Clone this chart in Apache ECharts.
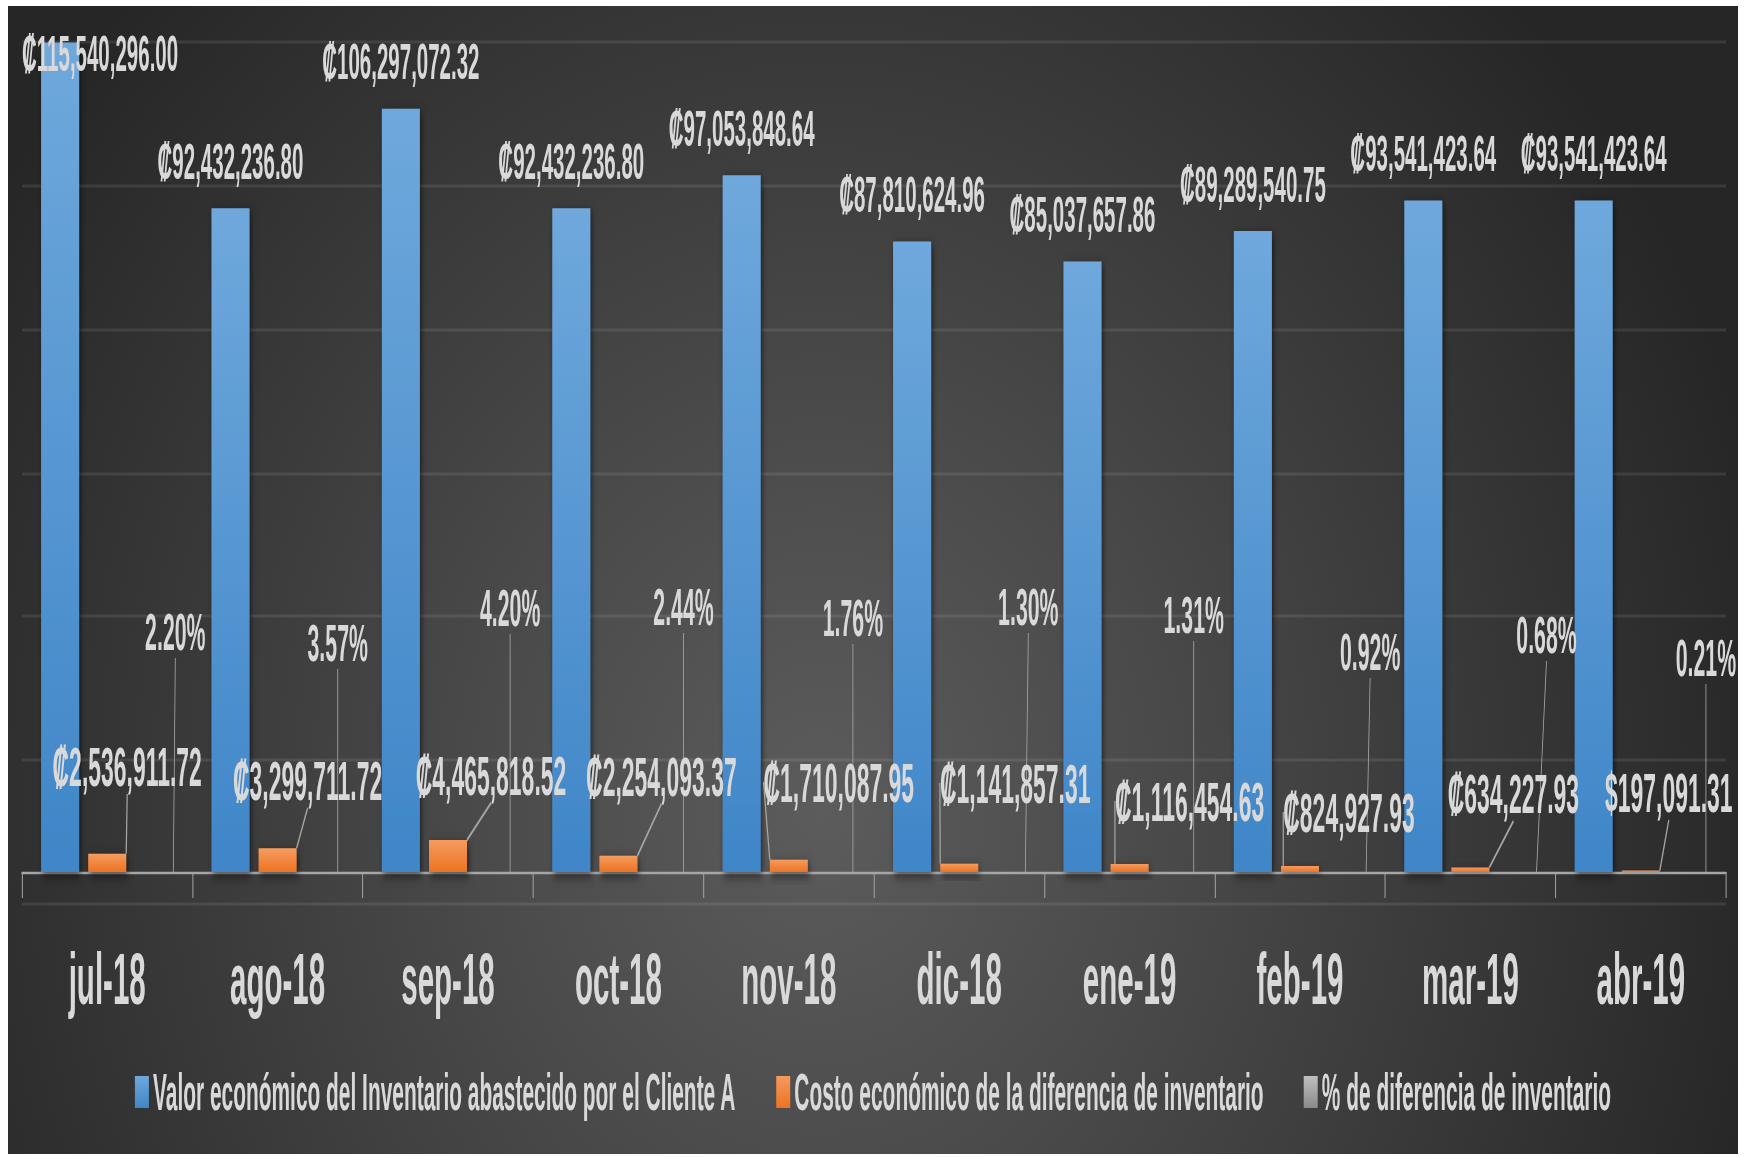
<!DOCTYPE html>
<html>
<head>
<meta charset="utf-8">
<script src="https://cdn.jsdelivr.net/npm/echarts@6/dist/echarts.min.js"></script>
<style>
html,body{margin:0;padding:0;background:#ffffff;width:1749px;height:1157px;overflow:hidden}
#panel{position:absolute;left:8px;top:6px;width:1730px;height:1148px;overflow:hidden;
  background:radial-gradient(ellipse 980px 1150px at 47% 70%, #5c5c5c 0%, #4a4a4a 35%, #262626 100%);}
#chart{position:absolute;left:0;top:0;transform-origin:0 0;}
</style>
</head>
<body>
<div id="panel"><div id="chart"></div></div>
<script>
// ---------------- data ----------------
const categories = ['jul-18','ago-18','sep-18','oct-18','nov-18','dic-18','ene-19','feb-19','mar-19','abr-19'];
const inventoryValue = [115540296.00, 92432236.80, 106297072.32, 92432236.80, 97053848.64, 87810624.96, 85037657.86, 89289540.75, 93541423.64, 93541423.64];
const differenceCost = [2536911.72, 3299711.72, 4465818.52, 2254093.37, 1710087.95, 1141857.31, 1116454.63, 824927.93, 634227.93, 197091.31];
const costSymbols = ['₡','₡','₡','₡','₡','₡','₡','₡','₡','$'];
const differencePct = [2.20, 3.57, 4.20, 2.44, 1.76, 1.30, 1.31, 0.92, 0.68, 0.21];
const seriesNames = [
  'Valor económico del Inventario abastecido por el Cliente A',
  'Costo económico de la diferencia de inventario',
  '% de diferencia de inventario'
];

// ---------------- layout (page pixels; converted to chart space below) ----------------
const PANEL_W = 1730, PANEL_H = 1148;
const CW = 2110, CH = 574;              // chart drawing space
const SX = PANEL_W / CW, SY = PANEL_H / CH;
const blueLabelShiftX = [40,0,0,0,0,0,0,0,0,0];
const blueLabelShiftY = [58,0,0,0,0,0,0,0,0,0];
const costLabelDx   = [20,30,43,43,50,56,60,49,43,28];
const costLabelRise = [106,92,97,96,90,89,71,60,79,80];
const pctLabelDx    = [21,13,15,18,17,22,17,23,29,18];
const pctLabelRise  = [240,229,264,265,254,265,257,220,237,214];

const FONT = "'Liberation Sans', Arimo, 'DejaVu Sans', sans-serif";
const TXT = '#d9d9d9';
const fmt = v => v.toLocaleString('en-US',{minimumFractionDigits:2, maximumFractionDigits:2});
const grad = (a,b) => new echarts.graphic.LinearGradient(0,0,0,1,[{offset:0,color:a},{offset:1,color:b}]);
const shadow = {shadowBlur:6, shadowColor:'rgba(0,0,0,0.55)', shadowOffsetX:2, shadowOffsetY:2};

const el = document.getElementById('chart');
el.style.width = CW + 'px';
el.style.height = CH + 'px';
el.style.transform = 'scale(' + SX + ',' + SY + ')';

const chart = echarts.init(el, null, {renderer:'svg'});
chart.setOption({
  animation:false,
  backgroundColor:'transparent',
  grid:{left:14/SX, right:12/SX, top:36/SY, bottom:(PANEL_H-897)/SY, containLabel:false, outerBoundsMode:'none'},
  legend:{
    data:seriesNames, left:'center', top:1050/SY, icon:'rect',
    itemWidth:14/SX, itemHeight:16, itemGap:40/SX,
    textStyle:{color:TXT, fontSize:25.5, fontWeight:'bold', fontFamily:FONT}
  },
  xAxis:{
    type:'category', data:categories, boundaryGap:true,
    axisLine:{show:true, onZero:true, onZeroAxisIndex:0, lineStyle:{color:'#a6a6a6', width:1.2}},
    axisTick:{show:true, length:13, interval:0, lineStyle:{color:'#a6a6a6', width:1.2}},
    axisLabel:{color:TXT, fontSize:36, fontWeight:'bold', fontFamily:FONT, margin:20, interval:0},
    splitLine:{show:false}
  },
  yAxis:[
    {type:'value', min:-4.32e6, max:115.6e6,
     axisLabel:{show:false}, axisLine:{show:false}, axisTick:{show:false}, splitLine:{show:false}},
    {type:'value', min:0, max:6, interval:1, position:'right',
     axisLabel:{show:false}, axisLine:{show:false}, axisTick:{show:false},
     splitLine:{show:true, lineStyle:{color:'rgba(255,255,255,0.09)', width:1.5}}}
  ],
  series:[
    {
      name:seriesNames[0], type:'bar', yAxisIndex:0, data:inventoryValue,
      barWidth:38/SX, barGap:'24%',
      itemStyle:Object.assign({color:grad('#6fa8dc','#3f86c8')}, shadow),
      label:{show:true, position:'top', distance:11, color:TXT, fontSize:25, fontWeight:'bold', fontFamily:FONT,
             formatter:p => '₡' + fmt(p.value)},
      labelLayout:p => ({dx:blueLabelShiftX[p.dataIndex]/SX, dy:blueLabelShiftY[p.dataIndex]/SY})
    },
    {
      name:seriesNames[1], type:'bar', yAxisIndex:0, data:differenceCost,
      barWidth:38/SX, barGap:'24%',
      itemStyle:Object.assign({color:grad('#f59b5f','#ed7321')}, shadow),
      label:{show:true, position:'top', color:TXT, fontSize:28, fontWeight:'bold', fontFamily:FONT,
             formatter:p => costSymbols[p.dataIndex] + fmt(p.value)},
      labelLine:{show:true, showAbove:true, lineStyle:{color:'#a6a6a6', width:1.5}},
      labelLayout:p => ({
        x:p.rect.x + p.rect.width/2 + costLabelDx[p.dataIndex]/SX,
        y:p.rect.y + p.rect.height - costLabelRise[p.dataIndex]/SY,
        align:'center', verticalAlign:'middle'
      })
    },
    {
      name:seriesNames[2], type:'bar', yAxisIndex:0, data:differencePct.map(v => v/100),
      barWidth:38/SX, barGap:'24%',
      itemStyle:{color:grad('#bfbfbf','#8a8a8a')},
      label:{show:true, position:'top', color:TXT, fontSize:26, fontWeight:'bold', fontFamily:FONT,
             formatter:p => (p.value*100).toFixed(2) + '%'},
      labelLine:{show:true, showAbove:true, lineStyle:{color:'#a6a6a6', width:1}},
      labelLayout:p => ({
        x:p.rect.x + p.rect.width/2 + pctLabelDx[p.dataIndex]/SX,
        y:p.rect.y + p.rect.height - pctLabelRise[p.dataIndex]/SY,
        align:'center', verticalAlign:'middle'
      })
    }
  ]
});
</script>
</body>
</html>
